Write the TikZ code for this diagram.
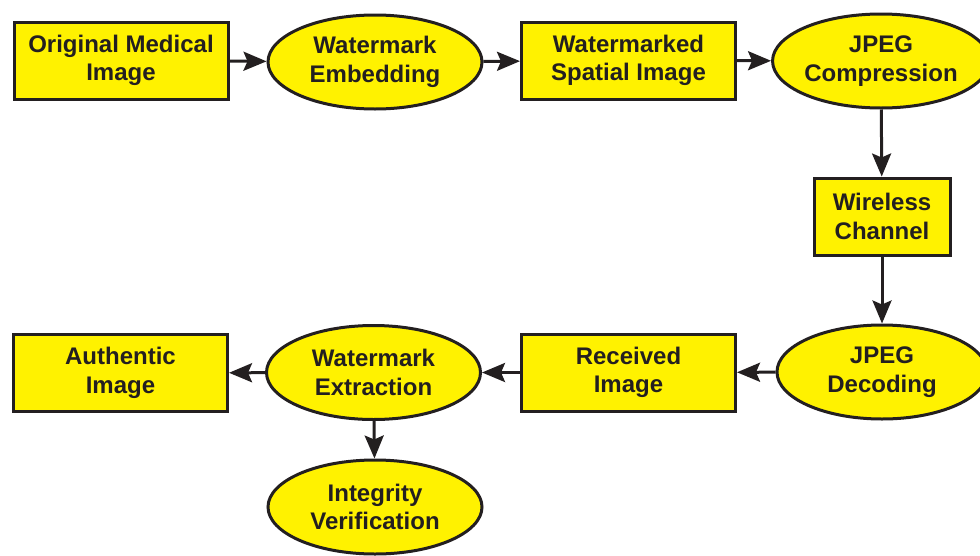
\documentclass[tikz,border=0pt]{standalone}
\usepackage{fontspec}
\setmainfont{Liberation Sans}
\usetikzlibrary{shapes.geometric,arrows.meta}
\definecolor{boxfill}{HTML}{FFF200}
\definecolor{ink}{HTML}{231F20}
\tikzset{
  base/.style={draw=ink, line width=3pt, fill=boxfill, text=ink, align=center,
    font=\fontsize{24}{28.5}\selectfont\bfseries, inner sep=0pt},
  rectbox/.style={base, rectangle, minimum width=214pt, minimum height=77pt},
  ellbox/.style={base, ellipse, minimum width=214pt, minimum height=94pt},
  conn/.style={draw=ink, line width=3pt, -{Stealth[length=23pt,width=19pt,inset=4pt]}}
}
\begin{document}
\begin{tikzpicture}[x=1pt,y=-1pt]
\useasboundingbox (0,0) rectangle (980,555);
\node[rectbox] (orig) at (121,60.5) {Original Medical\\Image};
\node[ellbox]  (emb)  at (375,62) {Watermark\\Embedding};
\node[rectbox] (wsi)  at (628.5,60.5) {Watermarked\\Spatial Image};
\node[ellbox]  (comp) at (881,61) {JPEG\\Compression};
\node[rectbox, minimum width=136pt] (wc) at (882,216.5) {Wireless\\Channel};
\node[ellbox, minimum width=210pt]  (dec) at (882,372) {JPEG\\Decoding};
\node[rectbox] (rec)  at (628.5,372.5) {Received\\Image};
\node[ellbox]  (ext)  at (373.5,372.5) {Watermark\\Extraction};
\node[rectbox] (auth) at (120.5,373) {Authentic\\Image};
\node[ellbox]  (integ) at (375,507) {Integrity\\Verification};
\draw[conn] (orig) -- (emb);
\draw[conn] (emb) -- (wsi);
\draw[conn] (wsi) -- (comp);
\draw[conn] (comp) -- (wc);
\draw[conn] (wc) -- (dec);
\draw[conn] (dec) -- (rec);
\draw[conn] (rec) -- (ext);
\draw[conn] (ext) -- (auth);
\draw[conn] (ext) -- (integ);
\end{tikzpicture}
\end{document}
